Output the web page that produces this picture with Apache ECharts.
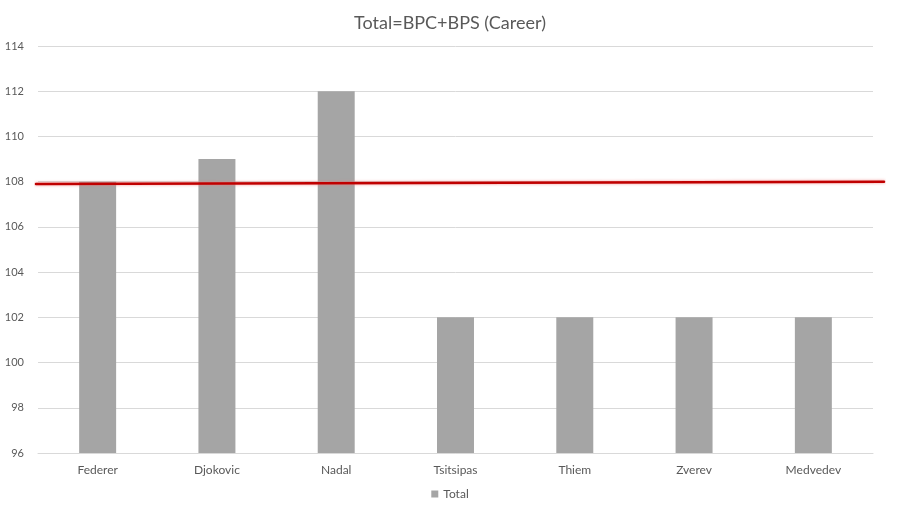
<!DOCTYPE html>
<html><head><meta charset="utf-8">
<script src="https://cdn.jsdelivr.net/npm/echarts@6/dist/echarts.min.js"></script>
<style>html,body{margin:0;padding:0;background:#fff}#c{width:900px;height:505px}</style>
</head><body><div id="c"></div>
<script>
var categories = ["Federer","Djokovic","Nadal","Tsitsipas","Thiem","Zverev","Medvedev"];
var totals = [108,109,112,102,102,102,102];
var refLineStart = 107.9;
var refLineEnd = 108.0;
var yMin = 96, yMax = 114, yStep = 2;

var chart = echarts.init(document.getElementById('c'));
var font = 'Lato, "Open Sans", sans-serif';
chart.setOption({
  animation:false,
  backgroundColor:'#fff',
  title:{text:'Total=BPC+BPS (Career)',left:'center',top:9,
    textStyle:{fontFamily:font,fontWeight:'normal',fontSize:18,color:'#595959'}},
  legend:{bottom:0,left:'center',itemWidth:7,itemHeight:7,icon:'rect',
    textStyle:{fontFamily:font,fontSize:12,color:'#595959'},data:['Total']},
  grid:[{left:38,right:27,top:46,bottom:52},{left:36,right:16,top:46,bottom:52}],
  xAxis:[{type:'category',data:categories,gridIndex:0,
    axisLine:{lineStyle:{color:'#d9d9d9'}},axisTick:{show:false},
    axisLabel:{fontFamily:font,fontSize:12,color:'#595959',margin:11}},
    {type:'value',gridIndex:1,min:0,max:1,show:false}],
  yAxis:[{type:'value',min:yMin,max:yMax,interval:yStep,gridIndex:0,
    axisLine:{show:false},axisTick:{show:false},
    splitLine:{lineStyle:{color:'#d9d9d9'}},
    axisLabel:{fontFamily:font,fontSize:11,color:'#595959',margin:14}},
    {type:'value',min:yMin,max:yMax,gridIndex:1,show:false}],
  series:[{name:'Total',type:'bar',data:totals,barWidth:'31%',
    itemStyle:{color:'#a5a5a5'}},
    {name:'ref',type:'line',xAxisIndex:1,yAxisIndex:1,symbol:'none',silent:true,z:5,
      data:[[0,refLineStart],[1,refLineEnd]],
      lineStyle:{color:'#c00000',width:2.5,cap:'round',shadowColor:'rgba(240,120,120,0.8)',shadowBlur:3}}]
});
</script></body></html>
